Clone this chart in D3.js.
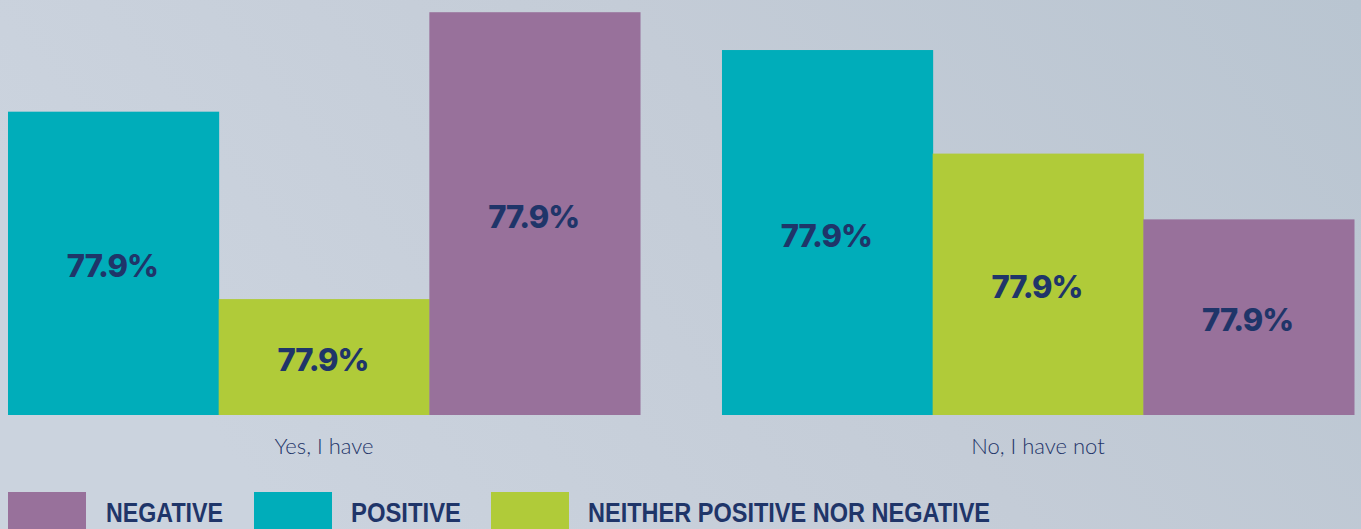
<!DOCTYPE html>
<html>
<head>
<meta charset="utf-8">
<script src="https://cdn.jsdelivr.net/npm/d3@7"></script>
<style>
  html, body { margin: 0; padding: 0; overflow: hidden; }
  svg { display: block; }
</style>
</head>
<body>
<div class="bar_chart"></div>
<script>
// D3 Script
const my_WIDTH = 1361
const my_HEIGHT = 529
const BASELINE = 415;

// data
const groups = ["Yes, I have", "No, I have not"];
const series = ["positive", "neither", "negative"];
const positive_vals = [36.9, 44.4];
const neither_vals = [14.1, 31.8];
const negative_vals = [49.0, 23.8];
const bar_labels = ["77.9%", "77.9%", "77.9%", "77.9%", "77.9%", "77.9%"];
const legend_names = ["NEGATIVE", "POSITIVE", "NEITHER POSITIVE NOR NEGATIVE"];
const legend_keys = ["negative", "positive", "neither"];

const colors = {positive: "#00adba", neither: "#b0cb39", negative: "#98719b"};
const NAVY = "#1f3569";

const svg = d3.select(".bar_chart")
	.append("svg")
	.attr("width", my_WIDTH)
	.attr("height", my_HEIGHT);

// background
const defs = svg.append("defs");
const grad = defs.append("linearGradient")
	.attr("id", "bg")
	.attr("x1", "0%").attr("y1", "30%")
	.attr("x2", "100%").attr("y2", "0%");
grad.append("stop").attr("offset", "0%").attr("stop-color", "#cbd3de");
grad.append("stop").attr("offset", "50%").attr("stop-color", "#c4ccd7");
grad.append("stop").attr("offset", "100%").attr("stop-color", "#b9c5d1");
svg.append("rect")
	.attr("width", my_WIDTH).attr("height", my_HEIGHT)
	.attr("fill", "url(#bg)");

let rows = [];
groups.forEach((g, i) => {
	rows.push({group: g, key: "positive", value: positive_vals[i], label: bar_labels[i * 3]});
	rows.push({group: g, key: "neither", value: neither_vals[i], label: bar_labels[i * 3 + 1]});
	rows.push({group: g, key: "negative", value: negative_vals[i], label: bar_labels[i * 3 + 2]});
});

const x0 = d3.scaleBand()
	.domain(groups)
	.range([8, 1354])
	.paddingInner(0.1148)
	.paddingOuter(0);

const x1 = d3.scaleBand()
	.domain(series)
	.range([0, x0.bandwidth()])
	.padding(0);

const yScale = d3.scaleLinear()
	.domain([0, 100])
	.range([BASELINE, BASELINE - 822]);

const bars = svg.selectAll(".bar")
	.data(rows).enter()
	.append("g")
	.attr("class", "bar")
	.attr("transform", d => "translate(" + (x0(d.group) + x1(d.key)) + ",0)");

bars.append("rect")
	.attr("x", 0)
	.attr("y", d => yScale(d.value))
	.attr("width", x1.bandwidth() + 0.5)
	.attr("height", d => yScale(0) - yScale(d.value))
	.attr("fill", d => colors[d.key]);

bars.append("text")
	.text(d => d.label)
	.attr("x", x1.bandwidth() / 2 - 1)
	.attr("y", d => (yScale(d.value) + yScale(0)) / 2 + 14)
	.style("text-anchor", "middle")
	.style("font-family", "Inter, 'DejaVu Sans', sans-serif")
	.style("font-weight", 800)
	.style("font-size", "31px")
	.style("letter-spacing", "-1px")
	.attr("fill", NAVY);

// group labels
svg.selectAll(".group_label")
	.data(groups).enter()
	.append("text")
	.attr("class", "group_label")
	.text(d => d)
	.attr("x", d => x0(d) + x0.bandwidth() / 2)
	.attr("y", 454)
	.style("text-anchor", "middle")
	.style("font-family", "Lato, 'Noto Sans', sans-serif")
	.style("font-size", "22px")
	.style("font-weight", 300)
	.attr("fill", NAVY);

// legend
const legend_x = [8, 254, 491];
const text_x = [106, 351, 588];
const text_len = [117, 110, 402];

const legend = svg.selectAll(".legend")
	.data(legend_names).enter()
	.append("g")
	.attr("class", "legend");

legend.append("rect")
	.attr("x", (d, i) => legend_x[i])
	.attr("y", 492)
	.attr("width", 78)
	.attr("height", 40)
	.attr("fill", (d, i) => colors[legend_keys[i]]);

legend.append("text")
	.text(d => d)
	.attr("x", (d, i) => text_x[i])
	.attr("y", 522)
	.attr("textLength", (d, i) => text_len[i])
	.attr("lengthAdjust", "spacingAndGlyphs")
	.style("font-family", "'Liberation Sans Narrow', 'Liberation Sans', sans-serif")
	.style("font-weight", "bold")
	.style("font-size", "27px")
	.attr("fill", NAVY);
</script>
</body>
</html>
